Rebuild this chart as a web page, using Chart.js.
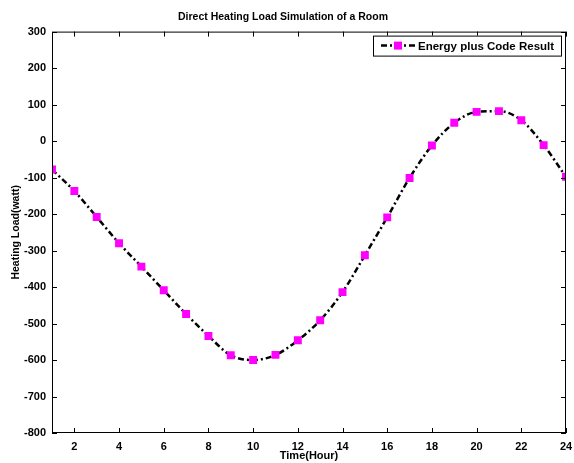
<!DOCTYPE html>
<html>
<head>
<meta charset="utf-8">
<script src="https://cdn.jsdelivr.net/npm/chart.js@4"></script>
<style>
  html, body { margin: 0; padding: 0; background: #fff; }
  #wrap { width: 574px; height: 463px; }
</style>
</head>
<body>
<div id="wrap"><canvas id="myChart" width="574" height="463"></canvas></div>
<script>
// Data
var hours = [1, 2, 3, 4, 5, 6, 7, 8, 9, 10, 11, 12, 13, 14, 15, 16, 17, 18, 19, 20, 21, 22, 23, 24];
var heatingLoad = [-78, -137, -208, -280, -344, -409, -474, -534, -587, -600, -586, -546, -491, -414, -313, -209, -101, -12, 50, 80, 82, 57, -11, -98];
var xTicks = [2, 4, 6, 8, 10, 12, 14, 16, 18, 20, 22, 24];
var yTicks = [-800, -700, -600, -500, -400, -300, -200, -100, 0, 100, 200, 300];

var titleText = 'Direct Heating Load Simulation of a Room';
var seriesName = 'Energy plus Code Result';
var fontFamily = '"Liberation Sans", Arial, sans-serif';

var points = hours.map(function (h, i) { return { x: h, y: heatingLoad[i] }; });

// Box, inward ticks on all sides and the legend box
var framePlugin = {
    id: 'frame',
    afterDatasetsDraw: function (chart) {
        var ctx = chart.ctx;
        var a = chart.chartArea;
        var xs = chart.scales.x, ys = chart.scales.y;
        ctx.save();
        ctx.strokeStyle = '#000';
        ctx.lineWidth = 1;
        ctx.strokeRect(a.left + 0.5, a.top + 0.5, a.right - a.left - 1, a.bottom - a.top - 1);
        ctx.beginPath();
        xTicks.forEach(function (t) {
            var px = Math.round(xs.getPixelForValue(t)) + 0.5;
            ctx.moveTo(px, a.bottom); ctx.lineTo(px, a.bottom - 5);
            ctx.moveTo(px, a.top); ctx.lineTo(px, a.top + 5);
        });
        yTicks.forEach(function (t) {
            var py = Math.round(ys.getPixelForValue(t)) + 0.5;
            ctx.moveTo(a.left, py); ctx.lineTo(a.left + 5, py);
            ctx.moveTo(a.right, py); ctx.lineTo(a.right - 5, py);
        });
        ctx.stroke();

        // legend
        var lx = a.right - 193, ly = a.top + 4, lw = 188, lh = 20;
        ctx.fillStyle = '#fff';
        ctx.fillRect(lx, ly, lw, lh);
        ctx.strokeRect(lx + 0.5, ly + 0.5, lw, lh);
        var my = ly + lh / 2;
        ctx.lineWidth = 2.5;
        ctx.setLineDash([6, 3, 2, 3]);
        ctx.beginPath();
        ctx.moveTo(lx + 8, my); ctx.lineTo(lx + 42, my);
        ctx.stroke();
        ctx.setLineDash([]);
        ctx.fillStyle = '#ff00ff';
        ctx.fillRect(lx + 21, my - 4, 8, 8);
        ctx.fillStyle = '#000';
        ctx.font = 'bold 11.5px ' + fontFamily;
        ctx.textBaseline = 'middle';
        ctx.fillText(seriesName, lx + 45, my + 1);
        ctx.restore();
    }
};

var ctx = document.getElementById('myChart').getContext('2d');
var chart = new Chart(ctx, {
    type: 'line',
    data: {
        datasets: [{
            label: seriesName,
            data: points,
            borderColor: '#000',
            borderWidth: 2.5,
            borderDash: [6, 3, 2, 3],
            cubicInterpolationMode: 'monotone',
            pointStyle: 'rect',
            pointRadius: 5.6,
            pointBackgroundColor: '#ff00ff',
            pointBorderColor: '#ff00ff',
            pointBorderWidth: 0,
            fill: false
        }]
    },
    options: {
        responsive: false,
        animation: false,
        layout: { padding: { left: 0, right: 8, top: 0, bottom: 0 } },
        plugins: {
            legend: { display: false },
            tooltip: { enabled: false },
            title: {
                display: true,
                text: titleText,
                color: '#000',
                font: { family: fontFamily, size: 10.5, weight: 'bold' },
                padding: { top: 11, bottom: 8 }
            }
        },
        scales: {
            x: {
                type: 'linear',
                min: 1,
                max: 24,
                afterBuildTicks: function (scale) {
                    scale.ticks = xTicks.map(function (v) { return { value: v }; });
                },
                afterFit: function (scale) {
                    scale.height = 30;
                    scale.paddingRight = 0;
                    scale.paddingLeft = 0;
                },
                grid: { display: false, drawTicks: false },
                border: { display: false },
                ticks: {
                    color: '#000',
                    padding: 7,
                    maxRotation: 0,
                    font: { family: fontFamily, size: 11, weight: 'bold' }
                },
                title: {
                    display: true,
                    text: 'Time(Hour)',
                    color: '#000',
                    padding: { top: 0, bottom: 0 },
                    font: { family: fontFamily, size: 11, weight: 'bold' }
                }
            },
            y: {
                min: -800,
                max: 300,
                afterBuildTicks: function (scale) {
                    scale.ticks = yTicks.map(function (v) { return { value: v }; });
                },
                afterFit: function (scale) { scale.width = 52; },
                grid: { display: false, drawTicks: false },
                border: { display: false },
                ticks: {
                    color: '#000',
                    padding: 6,
                    font: { family: fontFamily, size: 11, weight: 'bold' }
                },
                title: {
                    display: true,
                    text: 'Heating Load(watt)',
                    color: '#000',
                    padding: { top: 10, bottom: 0 },
                    font: { family: fontFamily, size: 10.5, weight: 'bold' }
                }
            }
        }
    },
    plugins: [framePlugin]
});
</script>
</body>
</html>
